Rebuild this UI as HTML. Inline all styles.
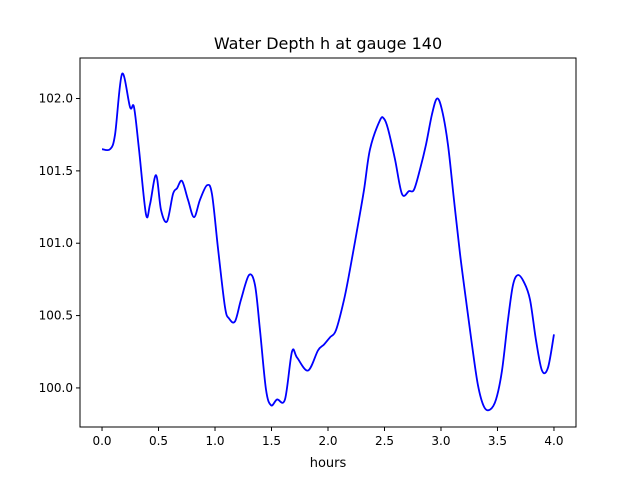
<!DOCTYPE html>
<html><head><meta charset="utf-8"><style>
body{margin:0;background:#fff;font-family:"Liberation Sans","DejaVu Sans",sans-serif}
svg text{font-family:"DejaVu Sans","Liberation Sans",sans-serif}
</style></head><body>
<svg id="chart" width="640" height="480" xmlns="http://www.w3.org/2000/svg">
<rect width="640" height="480" fill="#fff"/>
<text x="328" y="49" text-anchor="middle" font-size="16">Water Depth h at gauge 140</text>
<g id="plot"></g>
<rect x="80" y="58" width="496" height="369" fill="none" stroke="#000" stroke-width="1"/>
<text x="328" y="467" text-anchor="middle" font-size="13">hours</text>
</svg>
<script>
const hours=[0.000,0.071,0.115,0.177,0.248,0.283,0.327,0.389,0.425,0.478,0.522,0.575,0.628,0.664,0.708,0.761,0.814,0.867,0.929,0.973,1.027,1.088,1.124,1.177,1.230,1.301,1.354,1.398,1.451,1.496,1.549,1.619,1.681,1.726,1.823,1.912,1.965,2.018,2.071,2.142,2.195,2.257,2.319,2.372,2.460,2.496,2.531,2.593,2.655,2.717,2.761,2.814,2.867,2.920,2.965,3.009,3.062,3.115,3.168,3.221,3.274,3.327,3.381,3.434,3.487,3.540,3.593,3.637,3.681,3.735,3.788,3.841,3.894,3.947,4.000];
const depth=[101.65,101.65,101.75,102.17,101.94,101.94,101.65,101.20,101.27,101.47,101.23,101.15,101.34,101.38,101.43,101.30,101.18,101.30,101.40,101.34,100.96,100.56,100.48,100.46,100.61,100.78,100.71,100.40,99.99,99.88,99.92,99.92,100.25,100.21,100.12,100.26,100.30,100.35,100.40,100.61,100.82,101.09,101.37,101.65,101.85,101.86,101.79,101.58,101.34,101.36,101.37,101.51,101.68,101.89,102.00,101.92,101.68,101.30,100.93,100.61,100.30,100.02,99.87,99.85,99.92,100.12,100.47,100.71,100.78,100.73,100.61,100.33,100.12,100.14,100.37];
const xTicks=[0,0.5,1,1.5,2,2.5,3,3.5,4];
const xTickLabels=["0.0","0.5","1.0","1.5","2.0","2.5","3.0","3.5","4.0"];
const yTicks=[100,100.5,101,101.5,102];
const yTickLabels=["100.0","100.5","101.0","101.5","102.0"];
const L=80,R=576,T=58,B=427;
const xmin=-0.195,xmax=4.195,ymin=99.73,ymax=102.28;
const X=v=>L+(v-xmin)/(xmax-xmin)*(R-L);
const Y=v=>B-(v-ymin)/(ymax-ymin)*(B-T);
const NS="http://www.w3.org/2000/svg";
const g=document.getElementById('plot');
function mk(t,a){const e=document.createElementNS(NS,t);for(const k in a)e.setAttribute(k,a[k]);g.appendChild(e);return e;}
xTicks.forEach((v,i)=>{
  const l=mk('line',{x1:X(v),x2:X(v),y1:B,y2:B+4,stroke:'#000'});
  
  
  const t=mk('text',{x:X(v),y:B+18,'text-anchor':'middle','font-size':12});
  t.textContent=xTickLabels[i];
  
  
});
yTicks.forEach((v,i)=>{
  const l=mk('line',{x1:L-4,x2:L,y1:Y(v),y2:Y(v),stroke:'#000'});
  
  
  const t=mk('text',{x:L-7,y:Y(v)+4,'text-anchor':'end','font-size':12});
  t.textContent=yTickLabels[i];
  
  
});
const P=hours.map((h,i)=>[X(h),Y(depth[i])]);
let d='M'+P[0][0]+','+P[0][1];
for(let i=0;i<P.length-1;i++){
  const p0=P[Math.max(0,i-1)],p1=P[i],p2=P[i+1],p3=P[Math.min(P.length-1,i+2)];
  const c1=[p1[0]+(p2[0]-p0[0])/6,p1[1]+(p2[1]-p0[1])/6];
  const c2=[p2[0]-(p3[0]-p1[0])/6,p2[1]-(p3[1]-p1[1])/6];
  d+=` C${c1[0]},${c1[1]} ${c2[0]},${c2[1]} ${p2[0]},${p2[1]}`;
}
const line=mk('path',{d:d,fill:'none',stroke:'#0000ff','stroke-width':1.8});


</script>
</body></html>
